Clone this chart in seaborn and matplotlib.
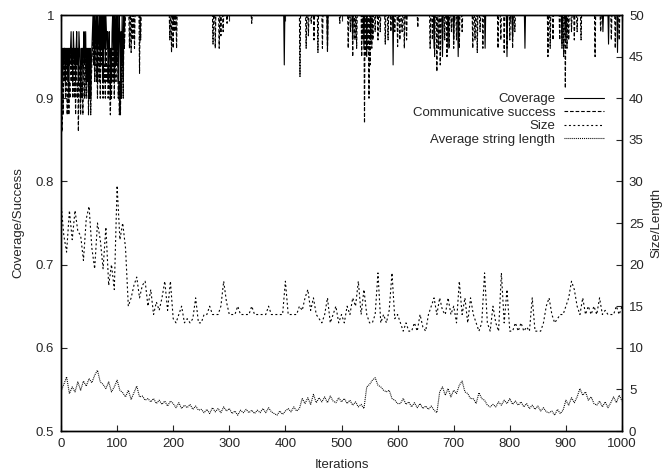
import numpy as np
import pandas as pd
import matplotlib
matplotlib.use("Agg")
import matplotlib.pyplot as plt
import seaborn as sns

# ---------------- data ----------------
# iterations sampled every 5 for size / string length
iters_5 = list(range(0, 1001, 5))

size_vals = [
    27.5, 23.5, 21.5, 26.5, 23, 26.5, 24, 23.5, 20.5, 25.5,
    27, 22, 19.5, 25, 23, 19.5, 24.5, 17.5, 20, 17,
    29.5, 23, 25, 22, 15, 16, 17.5, 18.5, 16, 17.5,
    18, 15, 17, 14, 15.5, 14.5, 16, 18, 14.5, 18,
    13.5, 13, 14, 15, 13, 13.5, 13, 13.5, 16, 13,
    13, 14, 14, 15, 14, 14, 14, 15, 18, 15.5,
    14, 14, 14, 15, 14, 14, 14, 14, 15, 14,
    14, 14, 14, 14, 15, 14, 14, 14, 14, 14,
    18, 14, 14, 14, 14, 15, 14.5, 16, 17, 14.5,
    16, 14, 13.5, 13, 14, 16, 13, 14, 15, 13,
    14, 13, 15, 14, 16, 15, 18, 14, 17, 14,
    13, 13, 14, 19, 13, 14, 13, 14.5, 19, 13.5,
    14, 13, 12, 13, 12, 12, 13, 12, 14, 12.5,
    12, 14, 15, 16, 14, 16, 14.5, 14, 16, 14,
    15, 13, 18, 14, 16, 13, 16, 14, 13, 12,
    13, 19, 13, 12, 15, 13, 12, 19, 13, 17,
    12, 12, 13, 12, 13, 12, 12.5, 12, 16, 12,
    12, 12, 13, 15, 16, 14, 13, 13.5, 14, 14,
    15, 16, 18, 17, 15, 14, 16, 14, 15, 14,
    15, 14, 16, 14, 14.5, 14, 14, 14, 15, 14,
    15,
]

length_vals = [
    4.8, 5.6, 6.5, 4.5, 5.3, 4.7, 5.9, 4.9, 6.0, 5.4,
    6.3, 5.8, 6.7, 7.3, 5.9, 5.6, 5.1, 5.9, 4.7, 5.3,
    6.1, 4.9, 4.6, 4.1, 4.9, 3.8, 4.6, 5.4, 4.1, 4.2,
    3.7, 3.9, 3.5, 3.9, 3.3, 3.7, 3.2, 3.6, 3.0, 3.6,
    3.3, 2.8, 3.4, 2.7, 3.1, 2.8, 3.2, 2.6, 3.0, 2.5,
    2.6, 2.2, 2.6, 2.1, 2.8, 2.3, 2.7, 2.2, 2.9, 2.4,
    2.7, 2.1, 2.4, 1.9, 2.5, 2.2, 2.6, 2.2, 2.5, 2.1,
    2.5, 2.2, 2.7, 2.2, 2.8, 2.3, 2.1, 1.9, 2.4, 2.0,
    2.4, 2.7, 2.3, 2.9, 2.4, 2.7, 3.9, 3.3, 4.0, 3.2,
    4.4, 3.4, 4.0, 3.5, 4.1, 3.4, 4.2, 3.6, 3.4, 4.0,
    3.5, 3.9, 3.3, 3.7, 3.1, 3.5, 2.9, 3.2, 2.7, 5.3,
    5.6, 6.1, 6.4, 5.5, 5.3, 4.9, 4.7, 4.9, 3.9, 3.7,
    3.3, 3.3, 3.9, 3.2, 3.5, 2.9, 3.4, 2.8, 3.3, 2.7,
    3.0, 2.6, 3.0, 2.5, 2.2, 4.7, 5.3, 4.3, 5.1, 4.1,
    4.9, 4.5, 5.5, 6.0, 4.7, 4.5, 3.9, 3.9, 3.3, 4.6,
    3.9, 3.7, 3.1, 2.9, 3.2, 2.9, 3.5, 3.1, 3.7, 3.3,
    3.9, 3.2, 3.6, 3.1, 3.5, 2.9, 3.3, 2.7, 3.1, 2.6,
    3.0, 2.4, 2.8, 2.3, 2.2, 2.4, 1.9, 2.6, 2.1, 2.5,
    3.7, 3.1, 4.0, 3.4, 4.1, 5.1, 4.3, 4.7, 3.7, 4.1,
    3.3, 3.1, 3.6, 2.9, 3.5, 2.8, 3.4, 4.1, 3.4, 4.3,
    3.6,
]

# coverage / communicative success: every iteration 0..119
coverage_early = [
    0.96, 0.94, 0.96, 0.92, 0.96, 0.94, 0.96, 0.96, 0.92, 0.96,
    0.94, 0.96, 0.92, 0.96, 0.90, 0.96, 0.94, 0.96, 0.98, 0.94,
    0.96, 0.92, 0.98, 0.96, 0.94, 0.96, 0.92, 0.96, 0.98, 0.94,
    0.96, 0.92, 0.98, 0.96, 0.94, 0.90, 0.96, 0.94, 0.96, 0.92,
    0.96, 0.98, 0.94, 0.96, 0.98, 0.92, 0.96, 0.94, 0.96, 0.90,
    0.96, 0.92, 0.96, 0.90, 0.94, 0.96, 0.98, 1.00, 0.96, 1.00,
    0.94, 1.00, 0.98, 0.96, 1.00, 0.92, 1.00, 0.98, 0.96, 1.00,
    0.94, 1.00, 0.96, 1.00, 0.98, 0.92, 1.00, 0.96, 1.00, 0.94,
    1.00, 0.98, 0.96, 0.98, 0.92, 0.96, 0.98, 0.94, 0.90, 0.96,
    0.92, 0.98, 1.00, 0.96, 1.00, 0.92, 1.00, 0.98, 0.94, 1.00,
    0.96, 1.00, 0.92, 0.98, 1.00, 0.96, 0.90, 0.98, 0.94, 1.00,
    0.96, 0.92, 1.00, 0.98, 1.00, 1.00, 1.00, 1.00, 1.00, 1.00,
]
success_early = [
    0.94, 0.90, 0.86, 0.92, 0.88, 0.94, 0.92, 0.96, 0.90, 0.94,
    0.92, 0.88, 0.90, 0.94, 0.88, 0.92, 0.90, 0.94, 0.96, 0.92,
    0.94, 0.90, 0.96, 0.92, 0.90, 0.94, 0.88, 0.94, 0.96, 0.90,
    0.92, 0.86, 0.94, 0.92, 0.90, 0.88, 0.94, 0.90, 0.92, 0.88,
    0.94, 0.96, 0.90, 0.92, 0.96, 0.90, 0.94, 0.92, 0.94, 0.88,
    0.92, 0.90, 0.94, 0.88, 0.92, 0.94, 0.96, 0.98, 0.94, 0.96,
    0.92, 0.98, 0.94, 0.92, 0.96, 0.90, 0.98, 0.94, 0.92, 0.96,
    0.90, 0.96, 0.94, 0.98, 0.92, 0.90, 0.96, 0.92, 0.94, 0.90,
    0.96, 0.94, 0.92, 0.94, 0.90, 0.92, 0.94, 0.90, 0.88, 0.92,
    0.90, 0.94, 0.96, 0.92, 0.98, 0.90, 0.96, 0.94, 0.92, 0.96,
    0.94, 0.96, 0.90, 0.92, 0.88, 0.92, 0.88, 0.94, 0.90, 0.96,
    0.94, 0.90, 0.98, 0.96, 0.98, 1.00, 1.00, 1.00, 1.00, 1.00,
]

# later single-iteration dips (all other iterations are 1.0)
coverage_dip_iters = [398, 475, 520, 540, 545, 552, 592, 665, 680, 690,
                      700, 708, 756, 795, 805, 827, 893, 900, 966, 976, 992]
coverage_dip_vals = [0.94, 0.96, 0.97, 0.96, 0.95, 0.97, 0.94, 0.96, 0.95, 0.96,
                     0.97, 0.95, 0.96, 0.95, 0.97, 0.96, 0.965, 0.97, 0.98, 0.965, 0.955]

success_dip_iters = [
    122, 125, 128, 131, 140, 142, 194, 197, 200, 203, 206,
    271, 275, 282, 285, 289, 296, 340, 426,
    437, 441, 446, 451, 458, 466, 475, 497,
    512, 516, 520, 524, 527, 536, 538, 541, 544, 546, 549, 551, 554, 556,
    560, 565, 569, 578, 583, 588, 595, 600, 604, 608, 612, 616, 636,
    658, 662, 666, 670, 673, 676, 680, 684, 688, 692, 696, 700, 705, 710, 715,
    734, 738, 742, 747, 752, 779, 784, 790, 795, 800, 805, 809,
    868, 872, 877, 889, 893, 896, 899, 902, 905, 910, 915, 920, 927,
    952, 962, 981, 988, 995,
]
success_dip_vals = [
    0.96, 0.955, 0.97, 0.96, 0.93, 0.97, 0.97, 0.955, 0.96, 0.98, 0.96,
    0.965, 0.96, 0.96, 0.975, 0.98, 0.99, 0.99, 0.926,
    0.96, 0.975, 0.99, 0.97, 0.955, 0.96, 0.955, 0.99,
    0.96, 0.98, 0.95, 0.97, 0.96, 0.95, 0.97, 0.87, 0.95, 0.96, 0.90, 0.94, 0.96, 0.97,
    0.98, 0.97, 0.98, 0.965, 0.97, 0.98, 0.98, 0.962, 0.97, 0.98, 0.96, 0.97, 0.985,
    0.96, 0.97, 0.95, 0.932, 0.96, 0.94, 0.96, 0.97, 0.95, 0.96, 0.98, 0.96, 0.97, 0.96, 0.98,
    0.96, 0.97, 0.955, 0.98, 0.96, 0.96, 0.97, 0.955, 0.96, 0.97, 0.96, 0.98,
    0.95, 0.96, 0.97, 0.97, 0.96, 0.95, 0.912, 0.96, 0.97, 0.98, 0.97, 0.98, 0.97,
    0.95, 0.98, 0.97, 0.96, 0.97,
]

x_ticks = [0, 100, 200, 300, 400, 500, 600, 700, 800, 900, 1000]
y_left_ticks = [0.5, 0.6, 0.7, 0.8, 0.9, 1.0]
y_left_labels = ["0.5", "0.6", "0.7", "0.8", "0.9", "1"]
y_right_ticks = [0, 5, 10, 15, 20, 25, 30, 35, 40, 45, 50]

# ---------------- build tables ----------------
iters_all = list(range(0, 1001))
coverage = [1.0] * len(iters_all)
success = [1.0] * len(iters_all)
coverage[:len(coverage_early)] = coverage_early
success[:len(success_early)] = success_early
for i, v in zip(coverage_dip_iters, coverage_dip_vals):
    coverage[i] = v
for i, v in zip(success_dip_iters, success_dip_vals):
    success[i] = v

df_top = pd.DataFrame({"it": iters_all, "coverage": coverage, "success": success})
df_bot = pd.DataFrame({"it": iters_5, "size": size_vals, "length": length_vals})

# ---------------- style ----------------
sns.set_style("white")
plt.rcParams["font.family"] = ["Liberation Sans", "DejaVu Sans"]
plt.rcParams["lines.scale_dashes"] = False
FS = 9.5

fig = plt.figure(figsize=(6.68, 4.70), dpi=100)
ax = fig.add_axes([61 / 668, 1 - 431 / 470, (622 - 61) / 668, (431 - 15) / 470])
ax2 = ax.twinx()

lw = 0.8
sns.lineplot(data=df_top, x="it", y="coverage", ax=ax, color="black", lw=lw,
             estimator=None, label="Coverage", legend=False)
sns.lineplot(data=df_top, x="it", y="success", ax=ax, color="black", lw=lw,
             estimator=None, label="Communicative success", legend=False,
             linestyle=(0, (2.6, 1.4)))
sns.lineplot(data=df_bot, x="it", y="size", ax=ax2, color="black", lw=lw,
             estimator=None, label="Size", legend=False,
             linestyle=(0, (1.4, 1.8)))
sns.lineplot(data=df_bot, x="it", y="length", ax=ax2, color="black", lw=lw,
             estimator=None, label="Average string length", legend=False,
             linestyle=(0, (0.7, 0.7)))

ax.set_xlim(0, 1000)
ax.set_ylim(0.5, 1.0)
ax2.set_ylim(0, 50)
ax.set_xticks(x_ticks)
ax.set_xticklabels([str(t) for t in x_ticks], fontsize=FS)
ax.set_yticks(y_left_ticks)
ax.set_yticklabels(y_left_labels, fontsize=FS)
ax2.set_yticks(y_right_ticks)
ax2.set_yticklabels([str(t) for t in y_right_ticks], fontsize=FS)

ax.tick_params(axis="x", direction="in", length=4.5, width=0.8, top=True, bottom=True, pad=5)
ax.tick_params(axis="y", direction="in", length=4.5, width=0.8, left=True, right=False, pad=5)
ax2.tick_params(axis="y", direction="in", length=4.5, width=0.8, right=True, left=False, pad=5)

for a in (ax, ax2):
    for s in a.spines.values():
        s.set_visible(True)
        s.set_color("black")
        s.set_linewidth(1.0)

ax.set_xlabel("Iterations", fontsize=FS, labelpad=6.5)
ax.set_ylabel("Coverage/Success", fontsize=FS, labelpad=8)
ax2.set_ylabel("Size/Length", fontsize=FS, rotation=90, labelpad=5)

h1, l1 = ax.get_legend_handles_labels()
h2, l2 = ax2.get_legend_handles_labels()
leg = ax2.legend(h1 + h2, l1 + l2, loc="upper right",
                 bbox_to_anchor=(604 / 668, 1 - 93 / 470),
                 bbox_transform=fig.transFigure, frameon=False,
                 markerfirst=False, fontsize=FS, handlelength=3.0,
                 handletextpad=0.7, labelspacing=0.1, borderpad=0,
                 borderaxespad=0)

fig.savefig("out.png", dpi=100, facecolor="white")
